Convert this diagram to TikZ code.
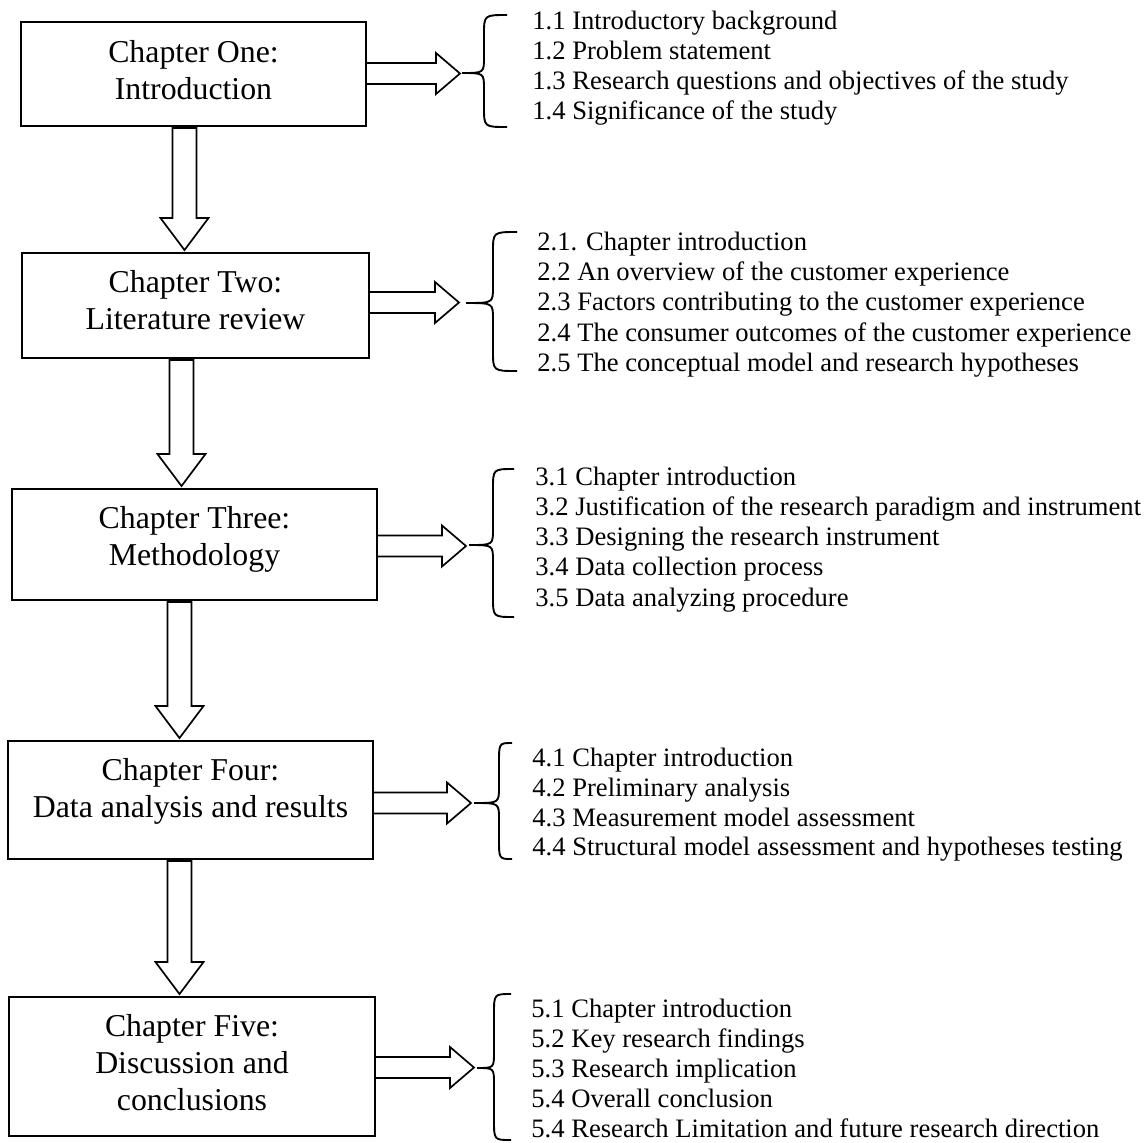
\documentclass[tikz,border=0pt]{standalone}
\usepackage{fontspec}
\setmainfont{Liberation Serif}
\usetikzlibrary{calc}
\tikzset{
  chbox/.style={draw, line width=1pt, inner sep=0pt, outer sep=0pt},
  boxtxt/.style={font=\fontsize{15.9}{18.5}\selectfont, anchor=base, inner sep=0pt},
  itemtxt/.style={font=\fontsize{13.3}{15}\selectfont, anchor=base west, inner sep=0pt},
  blockarr/.style={draw, line width=0.85pt, line join=miter, fill=white},
  bracestyle/.style={draw, line width=0.95pt},
}
% vertical block arrow: from node #1 (south) to node #2 (north), x offset #3
\newcommand{\varrowblk}[3]{%
  \draw[blockarr] let \p1=($(#1.south)+(#3,0)$), \p2=($(#2.north)+(#3,0)$) in
    (\x1-6pt,\y1-1pt) -- (\x1-6pt,\y2+17.5pt) -- (\x1-12pt,\y2+17.5pt) -- (\x1,\y2+1.5pt)
    -- (\x1+12pt,\y2+17.5pt) -- (\x1+6pt,\y2+17.5pt) -- (\x1+6pt,\y1-1pt) -- cycle;}
% horizontal block arrow: from node #1 (east) to coordinate #2 (tip)
\newcommand{\harrowblk}[2]{%
  \draw[blockarr] let \p1=(#1.east), \p2=(#2) in
    (\x1,\y2+5.25pt) -- (\x2-12pt,\y2+5.25pt) -- (\x2-12pt,\y2+10.25pt) -- (\x2,\y2)
    -- (\x2-12pt,\y2-10.25pt) -- (\x2-12pt,\y2-5.25pt) -- (\x1,\y2-5.25pt) -- cycle;}
% curly brace: xt xv xr yt ym yb (pixels)
\newcommand{\sbrace}[6]{%
  \draw[bracestyle] (#3,#4) .. controls (#2,#4) .. (#2,#4+20) -- (#2,#5-16)
    .. controls (#2,#5) .. (#1,#5) .. controls (#2,#5) .. (#2,#5+16) -- (#2,#6-20)
    .. controls (#2,#6) .. (#3,#6);}
\begin{document}
\begin{tikzpicture}[x=0.5pt, y=-0.5pt]
\useasboundingbox (0,0) rectangle (1146,1142);

% chapter boxes
\node[chbox, minimum width=172.5pt, minimum height=52pt]   (b1) at (193.5,74) {};
\node[chbox, minimum width=173.5pt, minimum height=52.5pt] (b2) at (195.5,305.5) {};
\node[chbox, minimum width=182.5pt, minimum height=55.5pt] (b3) at (194.5,544.5) {};
\node[chbox, minimum width=182.5pt, minimum height=59pt]   (b4) at (190.5,800) {};
\node[chbox, minimum width=183pt, minimum height=69.5pt]   (b5) at (192,1066.5) {};

% box texts
\node[boxtxt] (b1a) at (193.5,62) {Chapter One:};
\node[boxtxt] (b1b) at (193.5,99) {Introduction};
\node[boxtxt] (b2a) at (195.5,292) {Chapter Two:};
\node[boxtxt] (b2b) at (195.5,329) {Literature review};
\node[boxtxt] (b3a) at (194.5,528) {Chapter Three:};
\node[boxtxt] (b3b) at (194.5,565) {Methodology};
\node[boxtxt] (b4a) at (190.5,780) {Chapter Four:};
\node[boxtxt] (b4b) at (190.5,817) {Data analysis and results};
\node[boxtxt] (b5a) at (192,1036) {Chapter Five:};
\node[boxtxt] (b5b) at (192,1073) {Discussion and};
\node[boxtxt] (b5c) at (192,1110) {conclusions};

% vertical block arrows
\varrowblk{b1}{b2}{-9}
\varrowblk{b2}{b3}{-14}
\varrowblk{b3}{b4}{-15}
\varrowblk{b4}{b5}{-11}

% arrow tips
\coordinate (t1) at (460,73.5);
\coordinate (t2) at (459,302.5);
\coordinate (t3) at (466,546);
\coordinate (t4) at (471,803);
\coordinate (t5) at (474,1067.5);
\harrowblk{b1}{t1}
\harrowblk{b2}{t2}
\harrowblk{b3}{t3}
\harrowblk{b4}{t4}
\harrowblk{b5}{t5}

% braces
\sbrace{462}{484}{507}{15}{73}{127}
\sbrace{466}{493}{517}{232}{303}{371}
\sbrace{469}{493}{514}{469}{545}{617}
\sbrace{474}{499}{512}{743}{803}{859}
\sbrace{477}{494}{511}{994}{1068}{1140}

% item lists
\foreach \t [count=\i] in {1.1 Introductory background, 1.2 Problem statement,
  1.3 Research questions and objectives of the study, 1.4 Significance of the study}
  \node[itemtxt] (i1-\i) at (532,{29.5+30.1*(\i-1)}) {\t};
\foreach \t [count=\i] in {2.1. Chapter introduction, 2.2 An overview of the customer experience,
  2.3 Factors contributing to the customer experience,
  2.4 The consumer outcomes of the customer experience,
  2.5 The conceptual model and research hypotheses}
  \node[itemtxt] (i2-\i) at (537,{250.5+30.2*(\i-1)}) {\t};
\foreach \t [count=\i] in {3.1 Chapter introduction,
  3.2 Justification of the research paradigm and instrument,
  3.3 Designing the research instrument, 3.4 Data collection process,
  3.5 Data analyzing procedure}
  \node[itemtxt] (i3-\i) at (535,{485+30.3*(\i-1)}) {\t};
\foreach \t [count=\i] in {4.1 Chapter introduction, 4.2 Preliminary analysis,
  4.3 Measurement model assessment,
  4.4 Structural model assessment and hypotheses testing}
  \node[itemtxt] (i4-\i) at (532,{766.5+29.8*(\i-1)}) {\t};
\foreach \t [count=\i] in {5.1 Chapter introduction, 5.2 Key research findings,
  5.3 Research implication, 5.4 Overall conclusion,
  5.4 Research Limitation and future research direction}
  \node[itemtxt] (i5-\i) at (531,{1017+30.2*(\i-1)}) {\t};
\end{tikzpicture}
\end{document}
